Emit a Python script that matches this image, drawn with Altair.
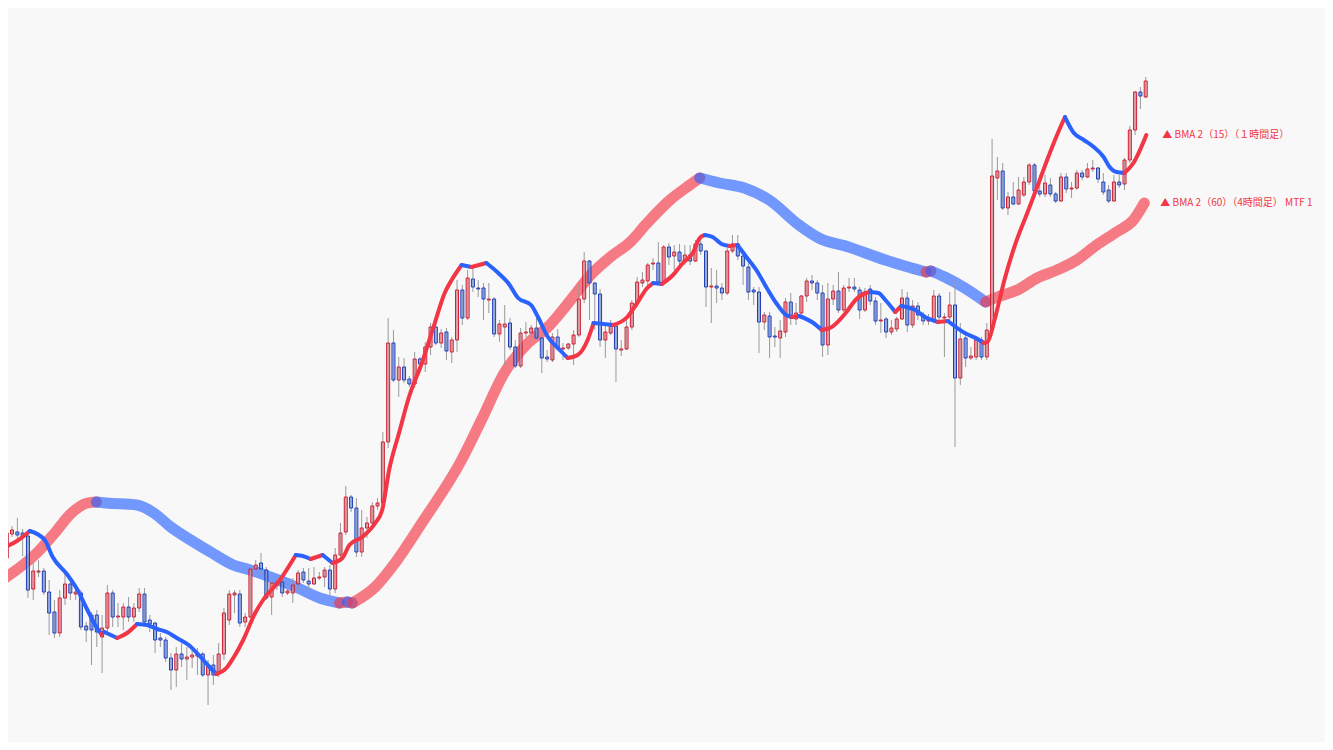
import altair as alt
import pandas as pd

# ---------------- candle data (1h bars) ----------------
OPEN = [142.42,142.66,142.68,142.67,142.64,142.11,142.28,142.29,142.08,141.88,
141.67,142.02,142.16,142.06,142.07,141.74,141.85,141.85,141.63,141.72,
142.07,141.83,141.83,141.93,141.83,141.92,142.06,141.80,141.77,141.62,
141.60,141.42,141.30,141.46,141.41,141.43,141.44,141.46,141.25,141.35,
141.27,141.46,141.80,142.05,142.06,141.78,141.83,142.31,142.37,142.30,
142.03,142.15,142.18,142.07,142.07,142.16,142.28,142.19,142.16,142.22,
142.23,142.30,142.11,142.45,142.68,143.03,142.92,142.48,142.72,142.77,
142.94,142.97,143.58,144.57,144.20,144.33,144.21,144.16,144.41,144.36,
144.53,144.73,144.57,144.68,144.48,144.60,145.10,144.82,145.21,145.12,
145.12,145.00,145.01,144.66,144.73,144.77,144.53,144.34,144.67,144.67,
144.72,144.62,144.43,144.40,144.63,144.51,144.52,144.56,144.65,145.01,
145.39,145.17,145.06,144.60,144.67,144.74,144.50,144.51,144.73,144.97,
145.17,145.19,145.36,145.37,145.18,145.53,145.44,145.48,145.39,145.45,
145.39,145.56,145.49,145.13,145.14,145.12,145.07,145.49,145.56,145.44,
145.33,145.10,145.08,144.78,144.84,144.64,144.62,144.68,144.98,144.81,
144.87,145.04,145.19,145.17,145.07,144.55,145.01,145.09,144.90,145.12,
145.13,145.10,144.90,145.11,144.99,144.79,144.81,144.68,144.71,144.81,
145.02,144.75,144.94,144.85,144.79,144.79,145.04,144.82,144.83,144.95,
144.22,144.62,144.42,144.43,144.60,144.43,144.70,146.22,146.29,145.92,
146.03,145.96,146.05,146.18,146.35,146.09,146.06,146.15,146.06,145.99,
146.23,146.11,146.12,146.27,146.23,146.31,146.32,146.18,146.10,145.99,
146.18,146.16,146.40,146.70,147.08,147.03]

HIGH = [142.74,142.74,142.82,142.71,142.70,142.38,142.40,142.32,142.20,142.00,
142.10,142.27,142.20,142.14,142.10,141.78,141.88,141.90,141.85,142.15,
142.10,141.97,141.97,142.03,141.97,142.12,142.12,141.85,141.78,141.67,
141.63,141.47,141.53,141.57,141.53,141.52,141.52,141.48,141.40,141.45,
141.57,141.92,142.10,142.10,142.10,141.87,142.32,142.40,142.47,142.33,
142.18,142.22,142.20,142.13,142.22,142.30,142.32,142.32,142.33,142.28,
142.33,142.35,142.52,142.77,143.14,143.05,143.02,142.90,142.83,142.98,
143.02,143.68,144.82,144.70,144.43,144.42,144.24,144.48,144.43,144.58,
144.77,144.77,144.71,144.72,144.63,145.20,145.15,145.30,145.34,145.20,
145.17,145.17,145.03,144.80,144.95,144.82,144.60,144.72,144.78,144.75,
144.82,144.67,144.50,144.67,144.71,144.57,144.57,144.70,145.15,145.48,
145.40,145.18,145.11,144.77,144.80,144.77,144.60,144.80,145.00,145.23,
145.28,145.37,145.42,145.58,145.55,145.57,145.55,145.56,145.55,145.55,
145.60,145.62,145.50,145.32,145.30,145.17,145.52,145.65,145.65,145.48,
145.42,145.13,145.13,144.88,144.88,144.73,144.80,145.02,145.07,144.97,
145.05,145.22,145.25,145.20,145.15,145.17,145.15,145.28,145.15,145.22,
145.22,145.13,145.12,145.15,145.03,144.97,144.83,144.80,144.83,145.11,
145.08,145.00,144.98,144.88,144.86,145.10,145.07,144.87,145.08,145.20,
144.77,144.65,144.53,144.63,144.63,144.77,146.61,146.43,146.37,146.08,
146.18,146.23,146.23,146.37,146.37,146.25,146.25,146.22,146.08,146.27,
146.27,146.18,146.30,146.30,146.37,146.40,146.33,146.27,146.15,146.25,
146.25,146.42,146.74,147.09,147.13,147.23]

LOW = [142.40,142.63,142.60,142.44,142.02,142.00,142.23,142.05,141.65,141.62,
141.63,141.95,142.00,142.00,141.70,141.58,141.35,141.53,141.27,141.68,
141.73,141.73,141.70,141.78,141.78,141.88,141.75,141.68,141.47,141.53,
141.38,141.10,141.13,141.33,141.20,141.32,141.25,141.23,140.95,141.15,
141.23,141.40,141.75,141.87,141.73,141.73,141.82,142.28,142.25,142.00,
141.85,142.10,142.03,142.05,141.97,142.10,142.17,142.10,142.15,142.20,
142.13,142.03,142.07,142.42,142.65,142.88,142.43,142.43,142.62,142.70,
142.90,142.93,143.52,144.18,144.03,144.17,144.13,144.12,144.28,144.28,
144.45,144.55,144.52,144.40,144.37,144.48,144.75,144.80,145.08,145.03,
144.80,144.87,144.63,144.58,144.35,144.50,144.32,144.32,144.63,144.63,
144.60,144.27,144.38,144.38,144.50,144.40,144.50,144.35,144.63,144.97,
144.80,144.70,144.53,144.42,144.65,144.18,144.44,144.50,144.70,144.93,
145.13,145.10,145.30,145.17,145.15,145.35,145.30,145.32,145.35,145.35,
145.38,145.45,144.93,144.77,144.97,145.00,145.05,145.47,145.40,145.15,
145.00,144.95,144.47,144.70,144.42,144.53,144.42,144.63,144.75,144.75,
144.85,144.98,145.10,145.00,144.43,144.45,144.95,144.87,144.88,145.08,
145.08,144.81,144.88,144.95,144.75,144.67,144.62,144.65,144.68,144.80,
144.68,144.72,144.80,144.75,144.75,144.77,144.80,144.43,144.80,143.53,
144.15,144.33,144.40,144.40,144.40,144.40,144.68,146.00,145.90,145.85,
145.95,145.95,146.03,146.15,146.05,146.03,146.03,146.03,145.97,145.98,
146.07,146.02,146.10,146.20,146.22,146.28,146.17,146.05,145.97,145.98,
146.12,146.10,146.37,146.65,146.91,147.02]

CLOSE = [142.67,142.70,142.65,142.63,142.10,142.29,142.29,142.08,141.87,141.67,
142.02,142.16,142.07,142.08,141.73,141.70,141.70,141.68,141.72,142.07,
141.83,141.84,141.93,141.83,141.92,142.06,141.78,141.76,141.60,141.60,
141.42,141.30,141.46,141.41,141.43,141.45,141.46,141.25,141.35,141.25,
141.46,141.87,142.06,142.07,141.77,141.83,142.31,142.35,142.31,142.02,
142.17,142.18,142.07,142.09,142.15,142.27,142.20,142.16,142.22,142.23,
142.30,142.11,142.45,142.67,143.03,142.92,142.48,142.72,142.77,142.94,
142.97,143.58,144.57,144.20,144.33,144.20,144.16,144.41,144.36,144.53,
144.73,144.57,144.67,144.49,144.60,145.10,144.82,145.22,145.13,145.11,
145.01,145.01,144.66,144.76,144.76,144.53,144.34,144.67,144.68,144.72,
144.62,144.42,144.41,144.63,144.51,144.52,144.56,144.65,145.01,145.39,
145.17,145.06,144.60,144.68,144.74,144.51,144.51,144.73,144.97,145.18,
145.20,145.35,145.37,145.18,145.53,145.43,145.48,145.39,145.45,145.39,
145.56,145.49,145.13,145.14,145.12,145.07,145.49,145.56,145.44,145.34,
145.08,145.08,144.78,144.85,144.63,144.63,144.69,144.98,144.82,144.87,
145.04,145.19,145.17,145.07,144.55,145.01,145.09,144.90,145.12,145.13,
145.11,144.90,145.08,144.99,144.79,144.80,144.68,144.72,144.81,145.02,
144.75,144.94,144.85,144.79,144.80,145.04,144.83,144.83,144.95,144.22,
144.61,144.42,144.44,144.60,144.43,144.70,146.24,146.29,145.92,146.03,
145.96,146.10,146.18,146.35,146.09,146.06,146.17,146.06,145.99,146.23,
146.11,146.12,146.27,146.23,146.31,146.32,146.21,146.08,145.99,146.18,
146.15,146.40,146.70,147.08,147.04,147.19]

# ---------------- moving averages ----------------
FAST_IDX = [-0.32,1.93,4.36,7.17,8.67,11.48,13.36,15.23,16.92,17.85,18.42,20.85,22.72,24.6,
26.47,28.34,30.22,32.09,34.34,36.59,38.46,39.58,41.46,42.77,44.64,46.89,48.39,51.57,54.57,
55.88,57.38,59.63,61.5,63.37,64.69,67.1,69.56,70.87,72.18,74.05,75.93,78.36,80.8,82.67,
83.98,85.86,87.73,90.54,92.79,94.66,96.53,98.97,100.28,102.15,104.03,105.9,107.78,109.65,
110.77,112.65,114.52,117.14,119.01,120.89,122.01,123.7,125.76,127.63,129.5,130.81,131.75,
133.25,134.94,136.43,137.93,139.62,141.49,143.37,145.24,147.11,148.24,149.55,151.99,153.86,
155.73,158.36,160.23,162.11,163.04,164.54,165.85,167.72,168.85,171.47,173.34,175.78,177.65,
180.84,183.27,184.4,185.15,186.46,188.33,190.2,192.64,194.51,196.39,198.26,199.76,201.44,
203.32,205.19,207.06,208.18,209.49,210.99,212.68,215.12]
FAST_PRICE = [142.53,142.59,142.69,142.60,142.43,142.25,142.10,141.90,141.73,141.66,141.68,141.62,141.67,141.76,
141.75,141.71,141.68,141.62,141.55,141.43,141.32,141.26,141.32,141.42,141.60,141.87,142.00,142.20,142.45,
142.44,142.41,142.45,142.37,142.42,142.55,142.63,142.77,142.90,143.30,143.67,144.03,144.37,144.77,145.07,
145.20,145.35,145.33,145.37,145.27,145.17,145.02,144.95,144.83,144.63,144.52,144.42,144.45,144.60,
144.77,144.76,144.75,144.83,144.97,145.12,145.17,145.16,145.25,145.37,145.47,145.62,145.65,
145.63,145.56,145.54,145.55,145.43,145.30,145.13,144.97,144.85,144.83,144.84,144.78,144.70,
144.73,144.87,145.00,145.07,145.08,145.07,145.00,144.88,144.94,144.90,144.83,144.78,144.79,
144.67,144.61,144.57,144.58,144.80,145.20,145.53,145.87,146.13,146.40,146.65,146.83,146.67,
146.60,146.53,146.43,146.33,146.28,146.27,146.37,146.65]

SLOW_IDX = [-0.32,5.86,9.05,12.23,15.23,16.92,18.79,24.6,27.78,30.97,34.71,38.46,42.77,45.95,
50.26,54.57,59.07,62.81,64.3,65.25,69.56,73.3,78.36,85.86,89.61,93.91,98.41,102.15,106.46,
110.21,113.95,117.7,120.89,125.2,128.95,130.81,134.56,139.24,143.93,149.55,153.3,158.92,
165.85,170.16,173.53,174.46,177.09,180.84,184.77,187.02,190.77,194.51,198.26,202.01,205.75,
209.49,212.68,214.74]
SLOW_PRICE = [142.22,142.48,142.67,142.87,142.97,142.98,142.97,142.95,142.87,142.73,142.60,142.48,142.35,142.30,
142.22,142.13,142.02,141.97,141.98,141.97,142.13,142.37,142.77,143.40,143.80,144.27,144.57,144.73,145.00,
145.25,145.43,145.58,145.77,146.00,146.15,146.22,146.17,146.12,146.00,145.75,145.62,145.53,
145.40,145.33,145.28,145.29,145.23,145.12,144.98,145.03,145.10,145.22,145.30,145.40,145.55,
145.68,145.80,145.97]

LABELS = ["▲ BMA 2（15）（１時間足）", "▲ BMA 2（60）（4時間足）  MTF 1"]

RED = "#F23645"
BLUE = "#2962FF"

# ---------------- tables ----------------
candles = pd.DataFrame({"idx": list(range(len(OPEN))), "open": OPEN, "high": HIGH,
                        "low": LOW, "close": CLOSE})
candles["dir"] = ["up" if c >= o else "down" for o, c in zip(OPEN, CLOSE)]


def runs(idx, price, name):
    """Split a line into runs of rising / falling segments (for two-colour drawing)."""
    dirs = ["up" if price[k + 1] >= price[k] else "down" for k in range(len(price) - 1)]
    rows, start, r = [], 0, 0
    for k in range(1, len(dirs) + 1):
        if k == len(dirs) or dirs[k] != dirs[start]:
            for j in range(start, k + 1):
                rows.append({"idx": idx[j], "price": price[j], "run": f"{name}{r}",
                             "dir": dirs[start]})
            r += 1
            start = k
    return pd.DataFrame(rows)


fast = runs(FAST_IDX, FAST_PRICE, "f")
slow = runs(SLOW_IDX, SLOW_PRICE, "s")
labels = pd.DataFrame({"idx": [FAST_IDX[-1], SLOW_IDX[-1]],
                       "price": [FAST_PRICE[-1], SLOW_PRICE[-1]],
                       "text": LABELS})

xs = alt.Scale(domain=[1.18, 247.9], nice=False, zero=False)
ys = alt.Scale(domain=[140.58, 147.92], nice=False, zero=False)
X = alt.X("idx:Q", scale=xs, axis=None)
cscale = alt.Scale(domain=["up", "down"], range=[RED, BLUE])

slow_line = alt.Chart(slow).mark_line(
    strokeWidth=11, opacity=0.65, strokeCap="round", strokeJoin="round",
    interpolate="monotone", clip=True
).encode(x=X, y=alt.Y("price:Q", scale=ys, axis=None),
         color=alt.Color("dir:N", scale=cscale, legend=None), detail="run:N")

wicks = alt.Chart(candles).mark_rule(color="#9a9a9a", strokeWidth=1, clip=True).encode(
    x=X, y=alt.Y("low:Q", scale=ys, axis=None), y2="high:Q")

bodies = alt.Chart(candles).mark_bar(size=3, strokeWidth=1, fillOpacity=0.5, clip=True).encode(
    x=X, y=alt.Y("open:Q", scale=ys, axis=None), y2="close:Q",
    fill=alt.Fill("dir:N", scale=alt.Scale(domain=["up", "down"], range=["#e57c88", "#6f8de0"]), legend=None),
    stroke=alt.Stroke("dir:N", scale=alt.Scale(domain=["up", "down"], range=["#cc1f33", "#1c3fb8"]), legend=None))

fast_line = alt.Chart(fast).mark_line(
    strokeWidth=4, strokeCap="round", strokeJoin="round", interpolate="monotone", clip=True
).encode(x=X, y=alt.Y("price:Q", scale=ys, axis=None),
         color=alt.Color("dir:N", scale=cscale, legend=None), detail="run:N")

text = alt.Chart(labels).mark_text(
    align="left", baseline="middle", dx=16, fontSize=10, font="Noto Sans CJK JP", color=RED
).encode(x=X, y=alt.Y("price:Q", scale=ys, axis=None), text="text:N")

chart = alt.layer(slow_line, wicks, bodies, fast_line, text).properties(
    width=1317, height=734,
    autosize=alt.AutoSizeParams(type="none"),
    padding=0, background="#f8f8f8"
).configure_view(stroke=None)

chart.save("out.html", embed_options={"renderer": "svg", "actions": False})
